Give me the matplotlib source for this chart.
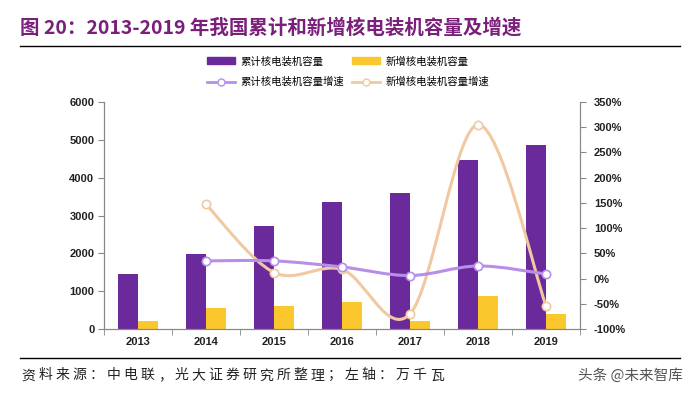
import numpy as np
import matplotlib.pyplot as plt
from matplotlib.path import Path
from matplotlib.patches import PathPatch, Patch
from matplotlib.lines import Line2D

plt.rcParams['font.family'] = ['Noto Sans CJK SC', 'DejaVu Sans']

years = ["2013", "2014", "2015", "2016", "2017", "2018", "2019"]
cum_capacity = [1466, 1988, 2717, 3364, 3582, 4466, 4874]
new_capacity = [221, 547, 612, 720, 218, 884, 409]
# growth rates in %, starting from 2014
cum_growth = [35, 35, 23, 6, 25, 9]
new_growth = [147, 12, 18, -70, 305, -54]

title = "图 20：2013-2019 年我国累计和新增核电装机容量及增速"
source = "资料来源：中电联，光大证券研究所整理；左轴：万千瓦"

PURPLE = "#6B2A9C"
YELLOW = "#FAC82C"
LAVENDER = "#B78FE8"
PEACH = "#F0C9A2"


def smooth_path(xs, ys):
    """Excel-like smoothed line as cubic Bezier segments."""
    pts = np.column_stack([xs, ys]).astype(float)
    verts = [pts[0]]
    codes = [Path.MOVETO]
    n = len(pts)
    for i in range(n - 1):
        p0 = pts[i - 1] if i > 0 else pts[i]
        p1, p2 = pts[i], pts[i + 1]
        p3 = pts[i + 2] if i + 2 < n else pts[i + 1]
        c1 = p1 + (p2 - p0) / 6.0
        c2 = p2 - (p3 - p1) / 6.0
        verts += [c1, c2, p2]
        codes += [Path.CURVE4] * 3
    return Path(verts, codes)


fig = plt.figure(figsize=(7, 3.93), dpi=100)
ax = fig.add_axes([0.1486, 0.1628, 0.68, 0.5777])
ax2 = ax.twinx()

x = np.arange(len(years))
w = 0.3
ax.bar(x - w / 2, cum_capacity, w, color=PURPLE, zorder=2)
ax.bar(x + w / 2, new_capacity, w, color=YELLOW, zorder=2)
ax.set_xlim(-0.5, len(years) - 0.5)
ax.set_ylim(0, 6000)
ax.set_yticks(range(0, 6001, 1000))
ax.set_xticks(x)
ax.set_xticklabels(years)
ax.set_xticks(np.arange(-0.5, len(years), 1), minor=True)
ax.tick_params(axis="x", which="major", length=0, pad=6)
ax.tick_params(axis="x", which="minor", length=4, color="#888888", direction="out")
ax.tick_params(axis="y", length=4, color="#888888", direction="out", pad=3)

gx = x[1:]
for vals, col in [(new_growth, PEACH), (cum_growth, LAVENDER)]:
    ax2.add_patch(PathPatch(smooth_path(gx, vals), facecolor="none",
                            edgecolor=col, lw=2.2, zorder=3))
    ax2.plot(gx, vals, ls="none", marker="o", ms=6, mfc="white",
             mec=col, mew=1.2, zorder=4)
ax2.set_ylim(-100, 350)
ax2.set_yticks(range(-100, 351, 50))
ax2.set_yticklabels([f"{v}%" for v in range(-100, 351, 50)])
ax2.tick_params(axis="y", length=4, color="#888888", direction="out", pad=6)

for a in (ax, ax2):
    a.spines["top"].set_visible(False)
    for s in ("left", "right", "bottom"):
        a.spines[s].set_color("#888888")
        a.spines[s].set_linewidth(0.8)
    for lab in a.get_xticklabels() + a.get_yticklabels():
        lab.set_fontsize(8)
        lab.set_fontweight("bold")
        lab.set_color("#222222")
        lab.set_family(["Liberation Sans", "DejaVu Sans"])

# column-wise fill: col 1 = cumulative, col 2 = new
handles = [
    Patch(color=PURPLE, label="累计核电装机容量"),
    Line2D([], [], color=LAVENDER, lw=2, marker="o", ms=5, mfc="white",
           mec=LAVENDER, label="累计核电装机容量增速"),
    Patch(color=YELLOW, label="新增核电装机容量"),
    Line2D([], [], color=PEACH, lw=2, marker="o", ms=5, mfc="white",
           mec=PEACH, label="新增核电装机容量增速"),
]
fig.legend(handles=handles, ncol=2, loc="center", bbox_to_anchor=(0.497, 0.818),
           frameon=False, fontsize=7.5, handlelength=2.7, handleheight=0.6,
           handletextpad=0.5, columnspacing=0.8, labelspacing=1.0)

fig.text(0.028, 0.928, title, fontsize=14, fontweight="bold",
         color="#7A1F7A", va="center")
fig.add_artist(Line2D([0.028, 0.972], [0.883, 0.883], color="black", lw=1))
fig.add_artist(Line2D([0.028, 0.972], [0.09, 0.09], color="black", lw=1))

# source line: spaced characters like the original document
step = 17.0 / 700
for i, ch in enumerate(source):
    fig.text(0.031 + i * step, 0.045, ch, fontsize=10, color="#222222",
             va="center", ha="left")
fig.text(0.975, 0.045, "头条 @未来智库", fontsize=10.5, color="#555555",
         va="center", ha="right")

fig.savefig("out.png", dpi=100)
